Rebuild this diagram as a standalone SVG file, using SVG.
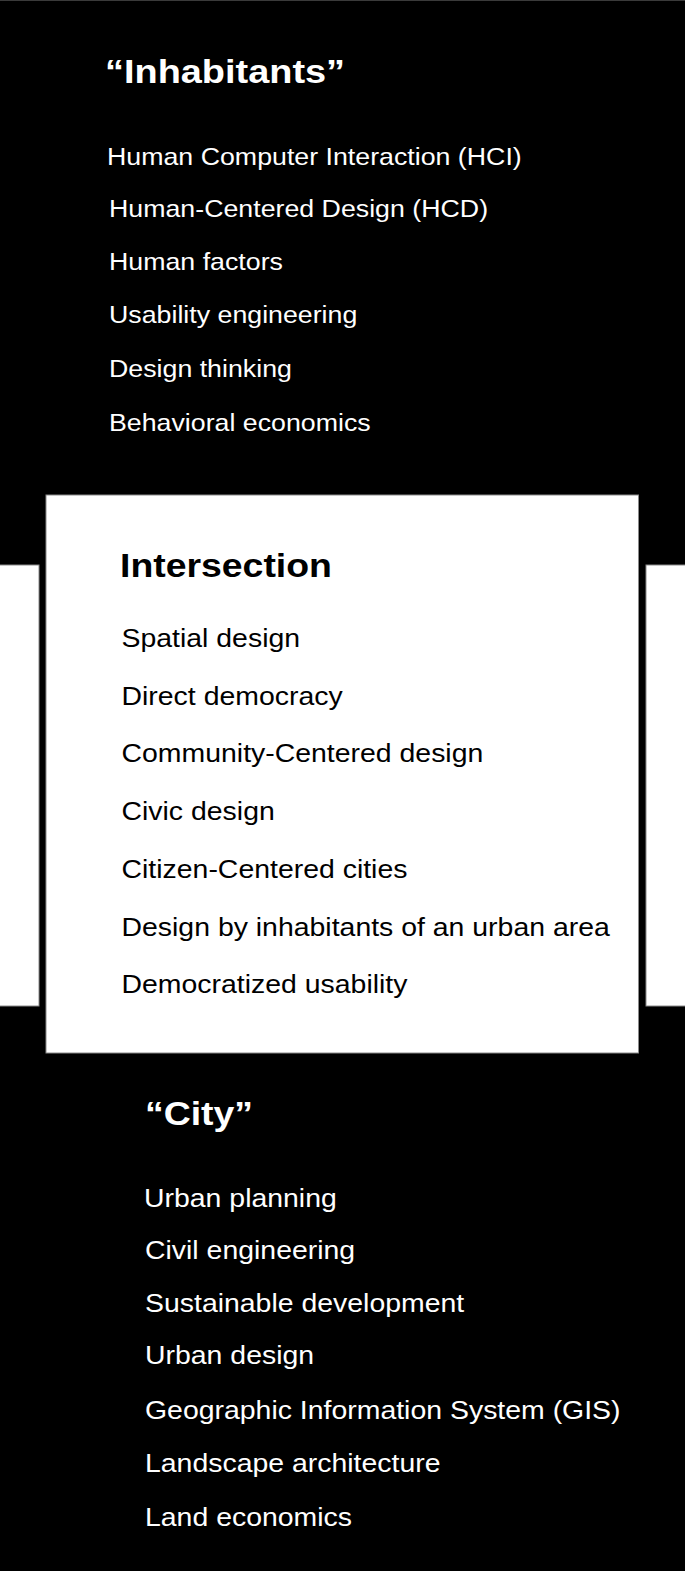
<svg xmlns="http://www.w3.org/2000/svg" width="685" height="1571" viewBox="0 0 685 1571">
<style>
.t{font-family:"Liberation Sans",Arial,Helvetica,sans-serif;font-size:24px}
.t2{font-family:"Liberation Sans",Arial,Helvetica,sans-serif;font-size:25.5px}
.h{font-family:"Liberation Sans",Arial,Helvetica,sans-serif;font-size:34px;font-weight:bold}
.w{fill:#ffffff}
.k{fill:#000000}
.panel{fill:#ffffff;stroke:#8a8a8a;stroke-width:1}
</style>
<rect x="0" y="0" width="685" height="1571" fill="#000000"/>
<line x1="0" y1="0.5" x2="685" y2="0.5" stroke="#3a3a3a" stroke-width="1"/>
<g id="side-strips">
<rect class="panel" x="-1" y="565" width="40" height="441"/>
<rect class="panel" x="646" y="565" width="40" height="441"/>
</g>
<g id="inhabitants">
<text class="h w" transform="translate(105 83) scale(1.115 1)">“Inhabitants”</text>
<text class="t w" transform="translate(107 165) scale(1.115 1)">Human Computer Interaction (HCI)</text>
<text class="t w" transform="translate(109 217) scale(1.115 1)">Human-Centered Design (HCD)</text>
<text class="t w" transform="translate(109 270) scale(1.115 1)">Human factors</text>
<text class="t w" transform="translate(109 323) scale(1.115 1)">Usability engineering</text>
<text class="t w" transform="translate(109 377) scale(1.115 1)">Design thinking</text>
<text class="t w" transform="translate(109 431) scale(1.115 1)">Behavioral economics</text>
</g>
<g id="intersection">
<rect class="panel" x="46" y="495" width="592.5" height="558"/>
<text class="h k" transform="translate(120 577) scale(1.1 1)">Intersection</text>
<text class="t2 k" transform="translate(121.5 647) scale(1.115 1)">Spatial design</text>
<text class="t2 k" transform="translate(121.5 705) scale(1.115 1)">Direct democracy</text>
<text class="t2 k" transform="translate(121.5 762) scale(1.115 1)">Community-Centered design</text>
<text class="t2 k" transform="translate(121.5 820) scale(1.115 1)">Civic design</text>
<text class="t2 k" transform="translate(121.5 878) scale(1.115 1)">Citizen-Centered cities</text>
<text class="t2 k" transform="translate(121.5 936) scale(1.115 1)">Design by inhabitants of an urban area</text>
<text class="t2 k" transform="translate(121.5 993) scale(1.115 1)">Democratized usability</text>
</g>
<g id="city">
<text class="h w" transform="translate(145 1125) scale(1.1 1)">“City”</text>
<text class="t2 w" transform="translate(144 1207) scale(1.115 1)">Urban planning</text>
<text class="t2 w" transform="translate(145 1259) scale(1.115 1)">Civil engineering</text>
<text class="t2 w" transform="translate(145 1312) scale(1.115 1)">Sustainable development</text>
<text class="t2 w" transform="translate(145 1364) scale(1.115 1)">Urban design</text>
<text class="t2 w" transform="translate(145 1419) scale(1.115 1)">Geographic Information System (GIS)</text>
<text class="t2 w" transform="translate(145 1472) scale(1.115 1)">Landscape architecture</text>
<text class="t2 w" transform="translate(145 1526) scale(1.115 1)">Land economics</text>
</g>
<g id="connectors"></g>
</svg>
